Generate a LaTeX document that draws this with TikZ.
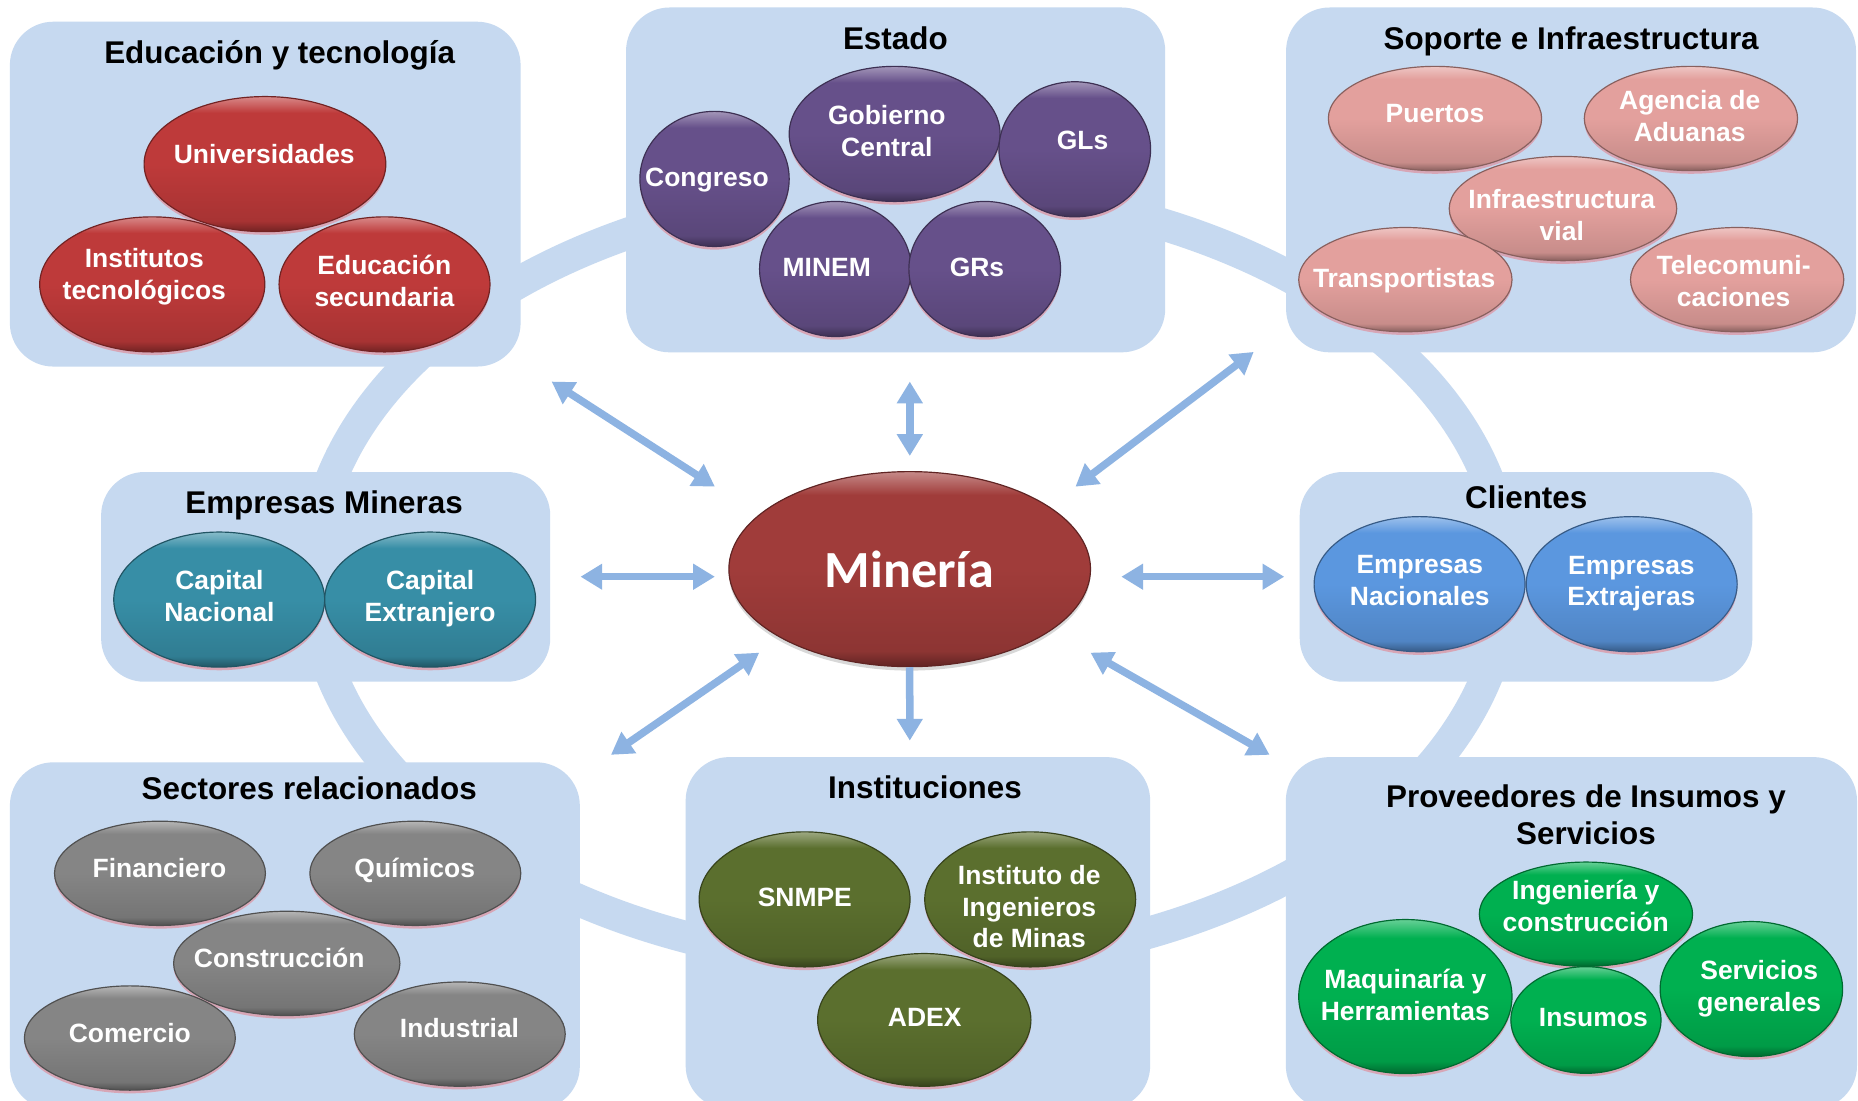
\documentclass[tikz,border=0pt]{standalone}
\usepackage{fontspec}
\setmainfont{Liberation Sans}
\newfontfamily\calib{Carlito}
\usetikzlibrary{shapes.geometric,arrows.meta,shadows}

\definecolor{panelc}{HTML}{C6D9F0}
\definecolor{arrowc}{HTML}{8DB3E2}

\newcommand\mkbev[2]{%
  \definecolor{#1base}{HTML}{#2}%
  \colorlet{#1lt}{#1base!60!white}%
  \colorlet{#1md}{#1base!88!black}%
  \colorlet{#1dk}{#1base!60!black}%
  \pgfdeclareverticalshading{#1bev}{100bp}{color(0bp)=(#1dk); color(25bp)=(#1dk); color(29bp)=(#1md); color(50bp)=(#1base); color(69bp)=(#1base); color(75bp)=(#1lt); color(100bp)=(#1lt)}%
}
\mkbev{cred}{BE3A3A}
\mkbev{cpur}{66508A}
\mkbev{cpink}{E3A09D}
\mkbev{cteal}{378EA6}
\mkbev{cblue}{5B97DF}
\mkbev{cgray}{858585}
\mkbev{colive}{5B6F2E}
\mkbev{cgreen}{00B050}
\mkbev{cmin}{A03C3A}

\tikzset{
  panel/.style={rectangle, fill=panelc, rounded corners=22pt, inner sep=0pt, anchor=north west},
  bub/.style={ellipse, inner sep=0pt, shade, shading=#1bev, draw=#1dk, line width=0.6pt,
    drop shadow={shadow xshift=0pt, shadow yshift=-1.6pt, fill=red!80!white, opacity=0.3}},
  esz/.style 2 args={minimum width=#1*1.2pt, minimum height=#2*1.2pt},
  et/.style={text=white, font=\bfseries\fontsize{13.4}{16.1}\selectfont, align=center, inner sep=0pt},
  et1/.style={text=white, font=\bfseries\fontsize{13.4}{16.1}\selectfont, inner sep=0pt, text height=9.6pt, text depth=0pt},
  tt/.style={text=black, font=\bfseries\fontsize{15.9}{19.1}\selectfont, align=center, inner sep=0pt},
  tt1/.style={text=black, font=\bfseries\fontsize{15.9}{19.1}\selectfont, inner sep=0pt, text height=11.4pt, text depth=0pt},
  arr/.style={draw=arrowc, line width=3.8pt, <->},
  arr1/.style={draw=arrowc, line width=3.8pt, ->},
}

\begin{document}
\begin{tikzpicture}[x=0.6pt,y=-0.6pt, >={Triangle[width=12.5pt,length=11pt]}]
\fill[white] (0,0) rectangle (1568,929);
\useasboundingbox (0,0) rectangle (1568,929);

% ring
\draw[panelc, line width=16.2pt] (767.5,486.5) ellipse [x radius=504, y radius=328];

% panels
\node[panel, minimum width=431*0.6pt, minimum height=291*0.6pt] (p-edu) at (8,18) {};
\node[panel, minimum width=455*0.6pt, minimum height=291*0.6pt] (p-est) at (528,6) {};
\node[panel, minimum width=481*0.6pt, minimum height=291*0.6pt] (p-sop) at (1085,6) {};
\node[panel, minimum width=379*0.6pt, minimum height=177*0.6pt] (p-em) at (85,398) {};
\node[panel, minimum width=382*0.6pt, minimum height=177*0.6pt] (p-cli) at (1096.5,398) {};
\node[panel, minimum width=481*0.6pt, minimum height=293*0.6pt] (p-sec) at (8,643) {};
\node[panel, minimum width=392*0.6pt, minimum height=297*0.6pt] (p-ins) at (578.3,638.6) {};
\node[panel, minimum width=482*0.6pt, minimum height=297*0.6pt] (p-pro) at (1084.8,638.6) {};

% titles
\node[tt1] (t-edu) at (236,44) {Educación y tecnología};
\node[tt1] (t-est) at (755.6,32.3) {Estado};
\node[tt1] (t-sop) at (1325.9,32.3) {Soporte e Infraestructura};
\node[tt1] (t-em) at (273.5,424) {Empresas Mineras};
\node[tt1] (t-cli) at (1288,419.4) {Clientes};
\node[tt1] (t-sec) at (261,665) {Sectores relacionados};
\node[tt1] (t-ins) at (780.6,664.6) {Instituciones};
\node[tt] (t-pro) at (1338.4,687.5) {Proveedores de Insumos y\\Servicios};

% Educacion y tecnologia
\node[bub=cred, esz={102}{57}] (univ) at (223.6,138.5) {};
\node[bub=cred, esz={95}{57}] (inst) at (128.5,240) {};
\node[bub=cred, esz={89}{57}] (edsec) at (324.5,240) {};
\node[et1] (t-univ) at (223,130) {Universidades};
\node[et] (t-inst) at (121.8,233.7) {Institutos\\tecnológicos};
\node[et] (t-edsec) at (324.4,237) {Educación\\secundaria};

% Estado
\node[bub=cpur, esz={63}{57}] (cong) at (603,151) {};
\node[bub=cpur, esz={89}{57}] (gob) at (755,113) {};
\node[bub=cpur, esz={64}{57}] (gls) at (907,126) {};
\node[bub=cpur, esz={64}{57}] (minem) at (705,227) {};
\node[bub=cpur, esz={64}{57}] (grs) at (831,227) {};
\node[et1] (t-cong) at (596.6,149) {Congreso};
\node[et] (t-gob) at (748.4,110.4) {Gobierno\\Central};
\node[et1] (t-gls) at (913.6,118) {GLs};
\node[et1] (t-minem) at (697.7,225) {MINEM};
\node[et1] (t-grs) at (824.5,225) {GRs};

% Soporte e Infraestructura
\node[bub=cpink, esz={90}{44}] (puer) at (1211,100) {};
\node[bub=cpink, esz={90}{44}] (adu) at (1427,100) {};
\node[bub=cpink, esz={96}{44}] (infra) at (1319,176) {};
\node[bub=cpink, esz={90}{44}] (trans) at (1186,236) {};
\node[bub=cpink, esz={90}{44}] (tele) at (1466,236) {};
\node[et1] (t-puer) at (1211,95.6) {Puertos};
\node[et] (t-adu) at (1426,97.8) {Agencia de\\Aduanas};
\node[et] (t-infra) at (1318,181.2) {Infraestructura\\vial};
\node[et1] (t-trans) at (1185,235) {Transportistas};
\node[et] (t-tele) at (1463,237) {Telecomuni-\\caciones};

% Empresas Mineras
\node[bub=cteal, esz={89}{57}] (capn) at (185,506) {};
\node[bub=cteal, esz={89}{57}] (cape) at (363,506) {};
\node[et] (t-capn) at (185.2,502.9) {Capital\\Nacional};
\node[et] (t-cape) at (363,505.2) {Capital\\Extranjero};

% Clientes
\node[bub=cblue, esz={89}{57}] (enac) at (1198,493) {};
\node[bub=cblue, esz={89}{57}] (eext) at (1377,493) {};
\node[et] (t-enac) at (1198.2,490.2) {Empresas\\Nacionales};
\node[et] (t-eext) at (1376.8,492.5) {Empresas\\Extrajeras};

% Sectores relacionados
\node[bub=cgray, esz={89}{44}] (fin) at (135,737) {};
\node[bub=cgray, esz={89}{44}] (quim) at (350.5,737) {};
\node[bub=cgray, esz={95.5}{44}] (cons) at (242,813) {};
\node[bub=cgray, esz={89}{44}] (com) at (109.6,876) {};
\node[bub=cgray, esz={89}{44}] (ind) at (388,872.7) {};
\node[et1] (t-fin) at (134.6,732.8) {Financiero};
\node[et1] (t-quim) at (350,732.8) {Químicos};
\node[et1] (t-cons) at (235.6,808.8) {Construcción};
\node[et1] (t-com) at (109.6,872) {Comercio};
\node[et1] (t-ind) at (387.8,867.8) {Industrial};

% Instituciones
\node[bub=colive, esz={89}{57}] (snmpe) at (679,759) {};
\node[bub=colive, esz={89}{57}] (iim) at (869.4,759) {};
\node[bub=colive, esz={90}{56}] (adex) at (780,860.7) {};
\node[et1] (t-snmpe) at (679.2,756.7) {SNMPE};
\node[et] (t-iim) at (868.6,765.1) {Instituto de\\Ingenieros\\de Minas};
\node[et1] (t-adex) at (780.4,858) {ADEX};

% Proveedores
\node[bub=cgreen, esz={90}{44}] (ing) at (1338.4,771.5) {};
\node[bub=cgreen, esz={90}{65}] (maq) at (1186,841) {};
\node[bub=cgreen, esz={63.4}{45}] (insu) at (1338.4,860.8) {};
\node[bub=cgreen, esz={77}{57}] (serv) at (1478,834.7) {};
\node[et] (t-ing) at (1338.2,764.4) {Ingeniería y\\construcción};
\node[et] (t-maq) at (1186,839.7) {Maquinaría y\\Herramientas};
\node[et1] (t-insu) at (1344.6,858) {Insumos};
\node[et] (t-serv) at (1484.6,834.4) {Servicios\\generales};

% Centre
\node[ellipse, inner sep=0pt, shade, shading=cminbev, draw=cmindk, line width=0.6pt,
  drop shadow={shadow xshift=0pt, shadow yshift=-2pt, fill=black!50, opacity=0.3},
  esz={152.6}{82.3}] (min) at (767.7,480.3) {};
\node[text=white, font=\calib\bfseries\fontsize{26.4}{31}\selectfont, inner sep=0pt,
  text height=17pt, text depth=0pt] (t-min) at (767.7,481.8) {Minería};

% arrow end points
\coordinate (a-tl1) at (465.5,322);   \coordinate (a-tl2) at (603.3,410.7);
\coordinate (a-t1) at (767.8,322);    \coordinate (a-t2) at (767.8,384.8);
\coordinate (a-tr1) at (1058,297);    \coordinate (a-tr2) at (907.6,410.7);
\coordinate (a-l1) at (489.9,486.7);  \coordinate (a-l2) at (603.3,486.7);
\coordinate (a-r1) at (1083.8,486.7); \coordinate (a-r2) at (946.3,486.7);
\coordinate (a-bl1) at (515.6,637);   \coordinate (a-bl2) at (640.7,550.8);
\coordinate (a-b2) at (767.8,625);
\coordinate (a-br1) at (1071.4,637);  \coordinate (a-br2) at (920.3,550.8);

\draw[arr] (a-tl1) -- (a-tl2);
\draw[arr] (a-t1) -- (a-t2);
\draw[arr] (a-tr1) -- (a-tr2);
\draw[arr] (a-l1) -- (a-l2);
\draw[arr] (a-r1) -- (a-r2);
\draw[arr] (a-bl1) -- (a-bl2);
\draw[arr1] (min.south) -- (a-b2);
\draw[arr] (a-br1) -- (a-br2);
\end{tikzpicture}
\end{document}
